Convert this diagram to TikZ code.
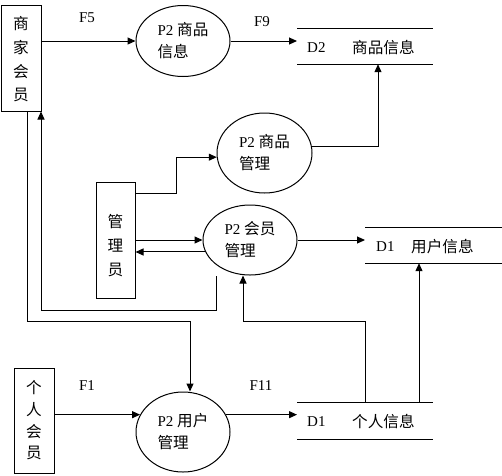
\documentclass[tikz,border=0pt]{standalone}
\usepackage{fontspec}
\setmainfont{Liberation Serif}
\newfontfamily\cjk[Scale=1.04]{Noto Sans CJK SC}
\usetikzlibrary{arrows.meta,shapes.geometric}
\begin{document}
\begin{tikzpicture}[x=1pt,y=-1pt,
  line/.style={line width=1pt},
  arr/.style={line width=1pt,-{Triangle[length=8pt,width=7pt]}},
  boxnode/.style={draw,line width=1pt,rectangle,inner sep=0pt},
  proc/.style={draw,line width=1pt,ellipse,inner sep=0pt,align=left,
    font=\fontsize{15}{22}\selectfont},
  store/.style={rectangle,inner sep=0pt,anchor=west},
  stxt/.style={inner sep=0pt,anchor=west,font=\fontsize{15}{18}\selectfont},
  flow/.style={inner sep=0pt,font=\fontsize{15}{18}\selectfont}]
\useasboundingbox (0,0) rectangle (502,475);

% external entities
\node[boxnode,minimum width=40pt,minimum height=106pt] (sj) at (21,58) {};
\node[inner sep=0pt,align=center,font=\cjk\fontsize{15}{23.7}\selectfont] (sjt) at (21,59.5) {商\\家\\会\\员};
\node[boxnode,minimum width=39pt,minimum height=116pt] (gl) at (115.5,240) {};
\node[inner sep=0pt,align=center,font=\cjk\fontsize{15}{24}\selectfont] (glt) at (115.5,246) {管\\理\\员};
\node[boxnode,minimum width=40pt,minimum height=105pt] (gm) at (34,420.5) {};
\node[inner sep=0pt,align=center,font=\cjk\fontsize{15}{21.7}\selectfont] (gmt) at (34,420.5) {个\\人\\会\\员};

% processes
\node[proc,minimum width=94pt,minimum height=71pt] (e1) at (183,41) {P2 {\cjk 商品}\\{\cjk 信息}};
\node[proc,minimum width=95pt,minimum height=80pt] (e2) at (264.5,153) {P2 {\cjk 商品}\\{\cjk 管理}};
\node[proc,minimum width=94pt,minimum height=70pt] (e3) at (250,240) {P2 {\cjk 会员}\\{\cjk 管理}};
\node[proc,minimum width=94pt,minimum height=80pt] (e4) at (183,432) {P2 {\cjk 用户}\\{\cjk 管理}};

% data stores
\node[store,minimum width=136pt,minimum height=35pt] (d2) at (297,46.5) {};
\node[store,minimum width=137pt,minimum height=35pt] (d1u) at (365,245.5) {};
\node[store,minimum width=136pt,minimum height=36pt] (d1p) at (297,421) {};
\draw[line] (d2.north west) -- (d2.north east) (d2.south west) -- (d2.south east);
\draw[line] (d1u.north west) -- (d1u.north east) (d1u.south west) -- (d1u.south east);
\draw[line] (d1p.north west) -- (d1p.north east) (d1p.south west) -- (d1p.south east);
\node[stxt] (d2a) at (307,48) {D2};
\node[stxt] (d2b) at (352,48) {\cjk 商品信息};
\node[stxt] (d1ua) at (376,247) {D1};
\node[stxt] (d1ub) at (411,247) {\cjk 用户信息};
\node[stxt] (d1pa) at (307,422) {D1};
\node[stxt] (d1pb) at (352,422) {\cjk 个人信息};

% flow labels
\node[flow] (f5) at (87,18) {F5};
\node[flow] (f9) at (262,22) {F9};
\node[flow] (f1) at (87,386) {F1};
\node[flow] (f11) at (261,386) {F11};

% bend coordinates
\coordinate (k1) at (378,146);
\coordinate (k2) at (176,193);
\coordinate (s1) at (216,276);
\coordinate (k3) at (41,310);
\coordinate (k4) at (27,321);
\coordinate (k5) at (190,321);
\coordinate (k6) at (365,321);
\coordinate (k7) at (243,321);
\coordinate (k8) at (419,330);

% connectors
\draw[arr] (sj.east |- e1.west) -- (e1.west);
\draw[arr] (e1.east) -- (d2.west |- e1.east);
\draw[arr] (e2.8) -| (d2.south -| k1);
\draw[arr] (gl.east |- k2) -- (k2) |- (e2.185);
\draw[arr] (gl.east |- e3.west) -- (e3.west);
\draw[arr] (e3.195) -- (gl.east |- e3.195);
\draw[arr] (e3.east) -- (d1u.west |- e3.east);
\draw[arr] (s1) -- (s1 |- k3) -- (k3) -- (sj.south -| k3);
\draw[arr] (sj.south -| k4) -- (k4) -- (k5) -- (e4.north -| k5);
\draw[arr] (d1p.north -| k6) -- (k6) -- (k7) -- (e3.south -| k7);
\draw[arr] (d1p.north -| k8) -- (d1u.south -| k8);
\draw[arr] (gm.east |- e4.158) -- (e4.158);
\draw[arr] (e4.22) -- (d1p.west |- e4.22);
\end{tikzpicture}
\end{document}
